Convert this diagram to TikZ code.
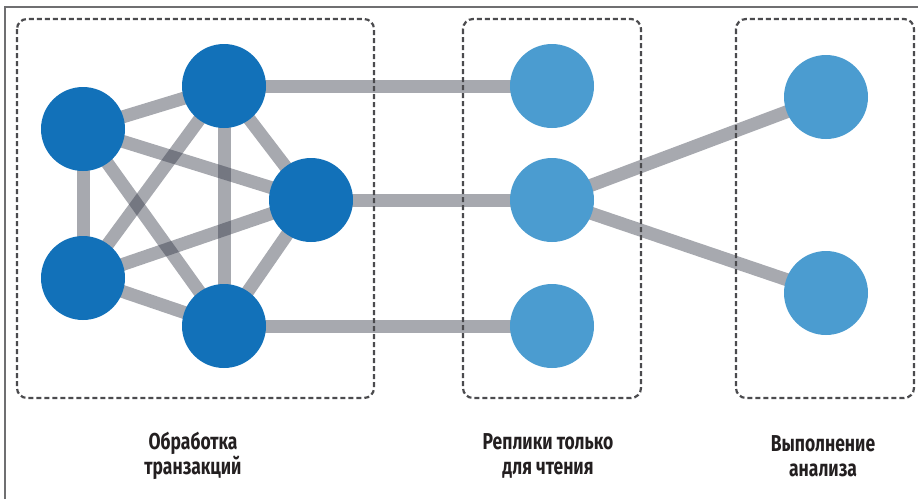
\documentclass[tikz,border=0pt]{standalone}
\usepackage{fontspec}
\setmainfont{Fira Sans}
\newfontfamily\capfont[FakeStretch=0.76]{Fira Sans}
\usepackage{tikz}
\usetikzlibrary{positioning, calc, backgrounds}

\definecolor{txblue}{RGB}{18,113,185}
\definecolor{roblue}{RGB}{75,156,208}
\definecolor{linkgray}{RGB}{50,55,70}
\definecolor{boxgray}{RGB}{75,75,78}
\definecolor{captext}{RGB}{35,31,32}

\begin{document}
\begin{tikzpicture}[x=1pt, y=-1pt,
    txnode/.style={circle, fill=txblue, minimum size=84pt, inner sep=0pt},
    ronode/.style={circle, fill=roblue, minimum size=84pt, inner sep=0pt},
    link/.style={draw=linkgray, line width=13pt, opacity=0.43},
    groupbox/.style={draw=boxgray, line width=2.2pt, dash pattern=on 5pt off 3pt, rounded corners=10pt},
    caption/.style={font=\capfont\bfseries\fontsize{23}{25}\selectfont, align=center, text=captext}]

    \useasboundingbox (0,0) rectangle (918,499);

    % Outer frame (only top and left visible)
    \draw[boxgray!80, line width=1.5pt] (5,499) -- (5,7) -- (918,7);

    % Transaction processing cluster
    \node (t1) [txnode] at (83,129) {};
    \node (t2) [txnode] at (224,86) {};
    \node (t3) [txnode] at (311,200) {};
    \node (t4) [txnode] at (83,278) {};
    \node (t5) [txnode] at (224,326) {};

    % Read-only replicas
    \node (r1) [ronode] at (552,86) {};
    \node (r2) [ronode] at (552,200) {};
    \node (r3) [ronode] at (552,326) {};

    % Analytics
    \node (a1) [ronode] at (826,97) {};
    \node (a2) [ronode] at (826,293) {};

    % Links behind the nodes
    \begin{scope}[on background layer]
    \foreach \u/\v in {t1/t2, t1/t3, t1/t4, t1/t5, t2/t3, t2/t4, t2/t5, t3/t4, t3/t5, t4/t5}
        \draw[link] (\u.center) -- (\v.center);
    \draw[link] (t2.center) -- (r1.center);
    \draw[link] (t3.center) -- (r2.center);
    \draw[link] (t5.center) -- (r3.center);
    \draw[link] (r2.center) -- (a1.center);
    \draw[link] (r2.center) -- (a2.center);
    \end{scope}

    % Group boxes
    \draw[groupbox] (17,19) rectangle (374,398);
    \draw[groupbox] (463,19) rectangle (641,398);
    \draw[groupbox] (736,19) rectangle (914,398);

    % Captions
    \node (captx) [caption] at (193,456) {Обработка\\транзакций};
    \node (capro) [caption] at (548,456) {Реплики только\\для чтения};
    \node (capan) [caption] at (823,456) {Выполнение\\анализа};
\end{tikzpicture}
\end{document}
